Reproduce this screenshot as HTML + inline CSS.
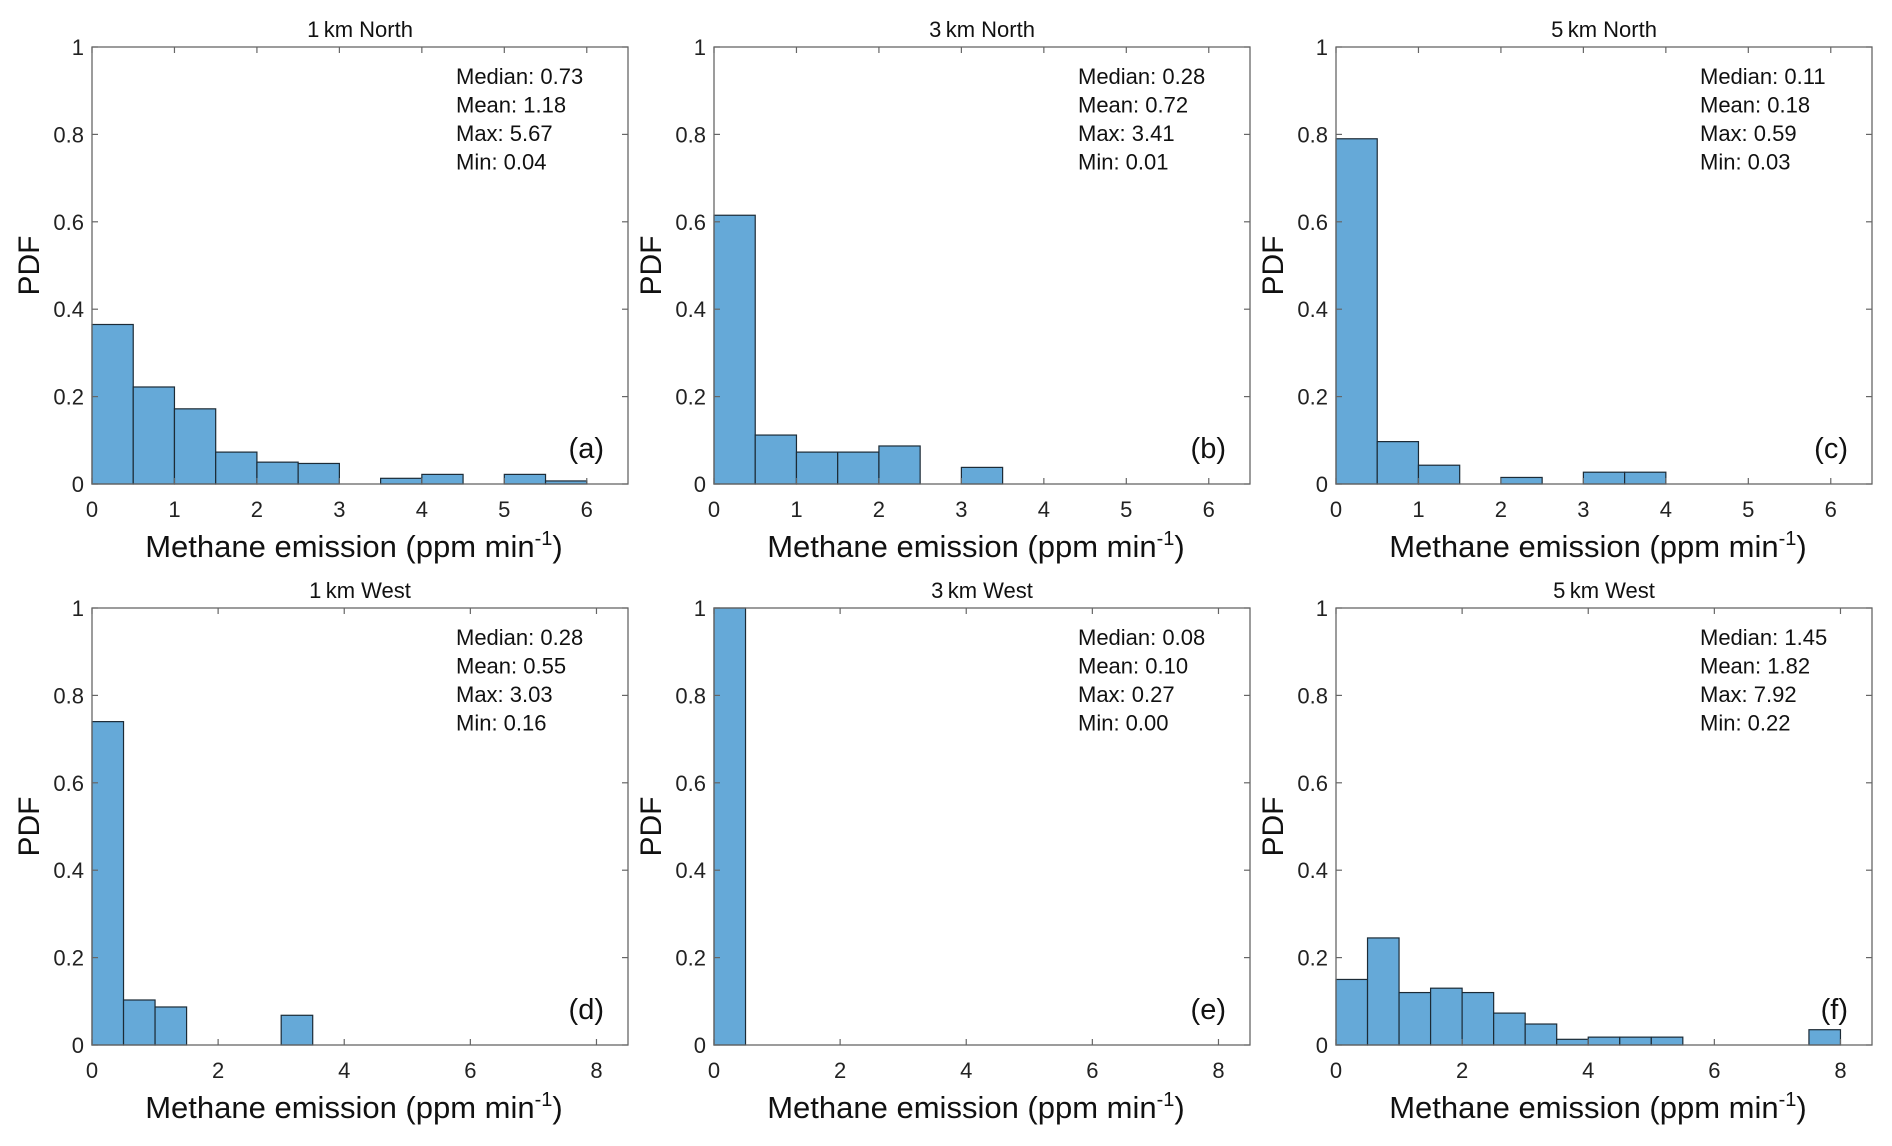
<!DOCTYPE html>
<html><head><meta charset="utf-8"><style>
html,body{margin:0;padding:0;background:#fff;}
svg{display:block;font-family:"Liberation Sans",Arial,sans-serif;}
</style></head><body>
<svg id="fig" width="1892" height="1146" viewBox="0 0 1892 1146"></svg>
<script>
const binWidth = 0.5;
const panelTitles = ["1\u2009km North","3\u2009km North","5\u2009km North","1\u2009km West","3\u2009km West","5\u2009km West"];
const panelLetters = ["(a)","(b)","(c)","(d)","(e)","(f)"];
const pdfA = [0.365,0.222,0.172,0.073,0.05,0.047,0,0.013,0.022,0,0.022,0.007];
const pdfB = [0.615,0.112,0.073,0.073,0.087,0,0.038];
const pdfC = [0.79,0.097,0.043,0,0.015,0,0.027,0.027];
const pdfD = [0.74,0.103,0.087,0,0,0,0.068];
const pdfE = [1.0];
const pdfF = [0.15,0.245,0.12,0.13,0.12,0.073,0.048,0.013,0.018,0.018,0.018,0,0,0,0,0.035];
const statsA = ["Median: 0.73","Mean: 1.18","Max: 5.67","Min: 0.04"];
const statsB = ["Median: 0.28","Mean: 0.72","Max: 3.41","Min: 0.01"];
const statsC = ["Median: 0.11","Mean: 0.18","Max: 0.59","Min: 0.03"];
const statsD = ["Median: 0.28","Mean: 0.55","Max: 3.03","Min: 0.16"];
const statsE = ["Median: 0.08","Mean: 0.10","Max: 0.27","Min: 0.00"];
const statsF = ["Median: 1.45","Mean: 1.82","Max: 7.92","Min: 0.22"];
const xTicksTop = [0,1,2,3,4,5,6];
const xTicksBottom = [0,2,4,6,8];
const yTicks = [0,0.2,0.4,0.6,0.8,1];
const yTickLabels = ["0","0.2","0.4","0.6","0.8","1"];

const NS="http://www.w3.org/2000/svg";
const svg=document.getElementById('fig');
function mk(tag,attrs,parent){const e=document.createElementNS(NS,tag);for(const k in attrs)e.setAttribute(k,attrs[k]);(parent||svg).appendChild(e);return e;}

const data=[pdfA,pdfB,pdfC,pdfD,pdfE,pdfF];
const stats=[statsA,statsB,statsC,statsD,statsE,statsF];
const colL=[92,714,1336], W=536;
const rowT=[47,608], H=437;

for(let p=0;p<6;p++){
  const r=Math.floor(p/3), c=p%3;
  const L=colL[c], T=rowT[r], B=T+H;
  const xmax = r===0?6.5:8.5;
  const xt = r===0?xTicksTop:xTicksBottom;
  const X=v=>L+v/xmax*W, Y=v=>B-v*H;
  const g=mk('g',{});
  
  
  data[p].forEach((v,i)=>{
    if(v<=0) return;
    const rc=mk('rect',{x:X(i*binWidth),y:Y(v),width:X((i+1)*binWidth)-X(i*binWidth),height:B-Y(v),fill:'#65a9d8',stroke:'#1c2b36','stroke-width':1.2},g);
    
    
  });
  const box=mk('rect',{x:L,y:T,width:W,height:H,fill:'none',stroke:'#666','stroke-width':1.3},g);
  
  
  xt.forEach(v=>{
    mk('line',{x1:X(v),x2:X(v),y1:B,y2:B-6,stroke:'#666','stroke-width':1.2},g);
    mk('line',{x1:X(v),x2:X(v),y1:T,y2:T+6,stroke:'#666','stroke-width':1.2},g);
    const t=mk('text',{x:X(v),y:B+33,'text-anchor':'middle','font-size':22,fill:'#222'},g);
    t.textContent=v;
    
    
  });
  yTicks.forEach((v,i)=>{
    mk('line',{x1:L,x2:L+6,y1:Y(v),y2:Y(v),stroke:'#666','stroke-width':1.2},g);
    mk('line',{x1:L+W,x2:L+W-6,y1:Y(v),y2:Y(v),stroke:'#666','stroke-width':1.2},g);
    const t=mk('text',{x:L-8,y:Y(v)+8,'text-anchor':'end','font-size':22,fill:'#222'},g);
    t.textContent=yTickLabels[i];
    
    
  });
  const ti=mk('text',{x:L+W/2,y:T-10,'text-anchor':'middle','font-size':22,fill:'#111'},g);
  ti.textContent=panelTitles[p];
  
  
  const yl=mk('text',{x:0,y:0,transform:`translate(${L-53},${T+H/2}) rotate(-90)`,'text-anchor':'middle','font-size':30,fill:'#111'},g);
  yl.textContent='PDF';
  
  
  const xl=mk('text',{x:L+W/2-6,y:B+73,'text-anchor':'middle','font-size':31,fill:'#111'},g);
  xl.innerHTML='Methane emission (ppm min<tspan dy="-12" font-size="20">-1</tspan><tspan dy="12">)</tspan>';
  
  
  stats[p].forEach((s,i)=>{
    const t=mk('text',{x:L+364,y:T+37+i*28.5,'font-size':22,fill:'#111'},g);
    t.textContent=s;
    
    
  });
  const lt=mk('text',{x:L+W-24,y:B-26,'text-anchor':'end','font-size':29,fill:'#111'},g);
  lt.textContent=panelLetters[p];
  
  
}
</script>
</body></html>
